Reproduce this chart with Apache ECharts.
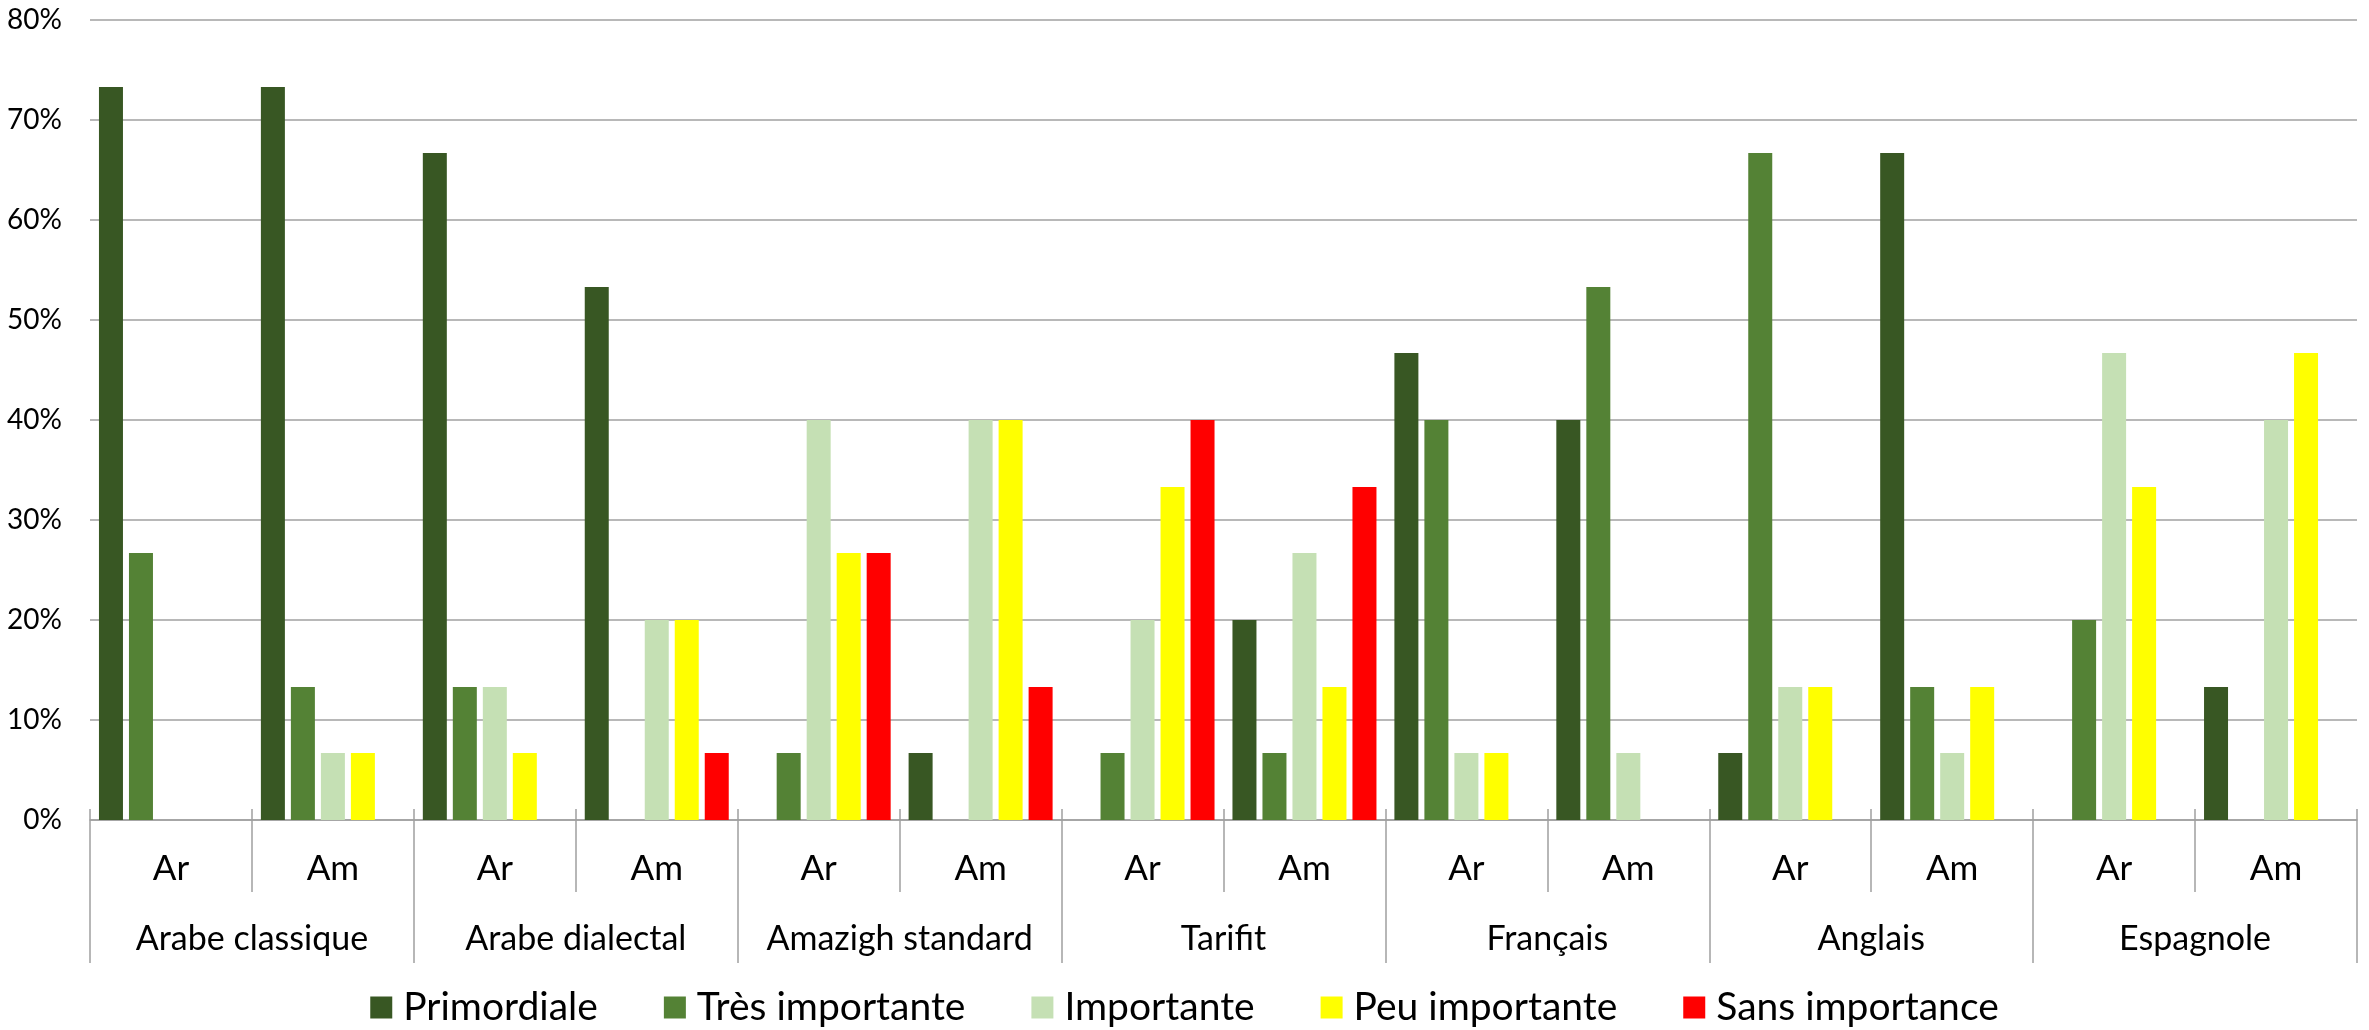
<!DOCTYPE html>
<html>
<head>
<meta charset="utf-8">
<title>Importance des langues</title>
<script src="https://cdn.jsdelivr.net/npm/echarts@6/dist/echarts.min.js"></script>
<style>
  html, body { margin: 0; padding: 0; background: #ffffff; }
  #chart { width: 2369px; height: 1030px; }
</style>
</head>
<body>
<div id="chart"></div>
<script>
// Languages and the two sub-groups under each one
const languages = ['Arabe classique', 'Arabe dialectal', 'Amazigh standard', 'Tarifit', 'Français', 'Anglais', 'Espagnole'];
const groups = ['Ar', 'Am'];

// Percentage of answers per level of importance, one value per (language, group)
const primordiale     = [73.3, 73.3, 66.7, 53.3,  0.0,  6.7,  0.0, 20.0, 46.7, 40.0,  6.7, 66.7,  0.0, 13.3];
const tresImportante  = [26.7, 13.3, 13.3,  0.0,  6.7,  0.0,  6.7,  6.7, 40.0, 53.3, 66.7, 13.3, 20.0,  0.0];
const importante      = [ 0.0,  6.7, 13.3, 20.0, 40.0, 40.0, 20.0, 26.7,  6.7,  6.7, 13.3,  6.7, 46.7, 40.0];
const peuImportante   = [ 0.0,  6.7,  6.7, 20.0, 26.7, 40.0, 33.3, 13.3,  6.7,  0.0, 13.3, 13.3, 33.3, 46.7];
const sansImportance  = [ 0.0,  0.0,  0.0,  6.7, 26.7, 13.3, 40.0, 33.3,  0.0,  0.0,  0.0,  0.0,  0.0,  0.0];

const seriesNames = ['Primordiale', 'Très importante', 'Importante', 'Peu importante', 'Sans importance'];
const seriesValues = [primordiale, tresImportante, importante, peuImportante, sansImportance];
const seriesColors = ['#385723', '#548235', '#C5E0B4', '#FFFF00', '#FF0000'];

const yTicks = [0, 10, 20, 30, 40, 50, 60, 70, 80];

// One category per (language, group) pair
const subCategories = [];
languages.forEach(() => groups.forEach(g => subCategories.push(g)));

const FONT = 'Lato, "Noto Sans", sans-serif';
const GREY = '#A0A0A0';

const chart = echarts.init(document.getElementById('chart'), null, { renderer: 'canvas' });

chart.setOption({
  backgroundColor: '#ffffff',
  animation: false,
  textStyle: { fontFamily: FONT, color: '#000000' },
  grid: { left: 90, right: 12, top: 20, bottom: 210, containLabel: false },
  legend: {
    data: seriesNames,
    left: 'center',
    top: 983,
    itemWidth: 22,
    itemHeight: 22,
    itemGap: 66,
    icon: 'rect',
    textStyle: { fontFamily: FONT, fontSize: 39, color: '#000000', padding: [0, 0, 0, 6] }
  },
  xAxis: [
    {
      // sub-group labels (Ar / Am)
      type: 'category',
      data: subCategories,
      position: 'bottom',
      axisLine: { show: true, lineStyle: { color: GREY, width: 1.5 } },
      axisTick: { show: true, interval: 0, length: 72, lineStyle: { color: GREY, width: 1.5 } },
      axisLabel: { interval: 0, margin: 31, fontSize: 35, color: '#000000', fontFamily: FONT },
      splitLine: { show: false }
    },
    {
      // language labels, spanning two sub-groups each
      type: 'category',
      data: languages,
      position: 'bottom',
      axisLine: { show: false },
      axisTick: { show: true, interval: 0, length: 143, lineStyle: { color: GREY, width: 1.5 } },
      axisLabel: { interval: 0, margin: 102, fontSize: 34, color: '#000000', fontFamily: FONT },
      splitLine: { show: false }
    },
    {
      // short tick marks crossing the axis upward
      type: 'category',
      data: subCategories,
      position: 'bottom',
      axisLine: { show: false },
      axisTick: { show: true, inside: true, interval: 0, length: 11, lineStyle: { color: GREY, width: 1.5 } },
      axisLabel: { show: false },
      splitLine: { show: false }
    }
  ],
  yAxis: {
    type: 'value',
    min: yTicks[0],
    max: yTicks[yTicks.length - 1],
    interval: 10,
    axisLine: { show: false },
    axisTick: { show: false },
    axisLabel: { formatter: '{value}%', fontSize: 28, margin: 28, color: '#000000', fontFamily: FONT },
    splitLine: { show: true, lineStyle: { color: GREY, width: 1.5 } }
  },
  series: seriesNames.map((name, i) => ({
    name: name,
    type: 'bar',
    xAxisIndex: 0,
    data: seriesValues[i],
    barWidth: 24,
    barGap: '25%',
    itemStyle: { color: seriesColors[i] }
  }))
});
</script>
</body>
</html>
